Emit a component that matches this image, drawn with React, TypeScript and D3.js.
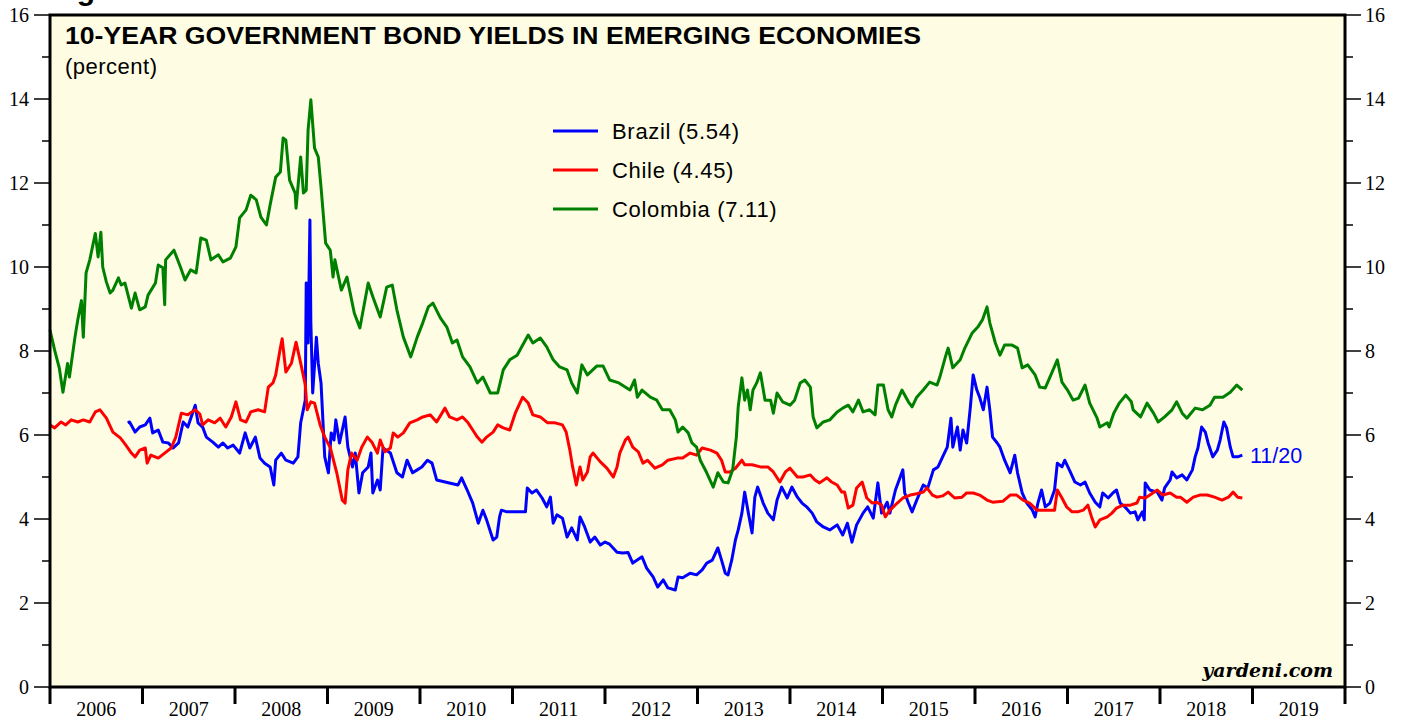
import React from "react";
import * as d3 from "d3";

const yearLabels = [2006, 2007, 2008, 2009, 2010, 2011, 2012, 2013, 2014, 2015, 2016, 2017, 2018, 2019];
const yTicks = [0, 2, 4, 6, 8, 10, 12, 14, 16];
const yMinorTicks = [1, 3, 5, 7, 9, 11, 13, 15];

const colombia: [number, number][] = [
  [2006.00, 8.5], [2006.05, 8.02], [2006.10, 7.6], [2006.14, 7.02], [2006.19, 7.7], [2006.21, 7.38],
  [2006.27, 8.33], [2006.30, 8.74], [2006.34, 9.2], [2006.36, 8.33], [2006.39, 9.86], [2006.43, 10.17],
  [2006.49, 10.8], [2006.52, 10.24], [2006.55, 10.83], [2006.57, 10.0], [2006.61, 9.64], [2006.65, 9.38],
  [2006.68, 9.45], [2006.74, 9.74], [2006.77, 9.57], [2006.81, 9.62], [2006.88, 9.02], [2006.92, 9.38],
  [2006.97, 8.98], [2007.03, 9.05], [2007.06, 9.33], [2007.14, 9.62], [2007.17, 10.05], [2007.22, 9.98],
  [2007.24, 9.1], [2007.25, 10.17], [2007.34, 10.4], [2007.41, 10.0], [2007.46, 9.69], [2007.52, 9.93],
  [2007.58, 9.86], [2007.63, 10.69], [2007.69, 10.64], [2007.74, 10.17], [2007.82, 10.29], [2007.87, 10.12],
  [2007.95, 10.21], [2008.01, 10.48], [2008.05, 11.17], [2008.12, 11.36], [2008.17, 11.71], [2008.23, 11.6],
  [2008.28, 11.19], [2008.34, 11.0], [2008.38, 11.48], [2008.44, 12.14], [2008.49, 12.26], [2008.52, 13.07],
  [2008.55, 13.02], [2008.59, 12.07], [2008.65, 11.76], [2008.66, 11.4], [2008.71, 12.62], [2008.74, 11.76],
  [2008.77, 11.83], [2008.79, 13.26], [2008.82, 13.98], [2008.86, 12.83], [2008.90, 12.62], [2008.93, 11.9],
  [2008.98, 10.57], [2009.03, 10.4], [2009.06, 9.76], [2009.08, 10.17], [2009.15, 9.45], [2009.21, 9.76],
  [2009.29, 8.9], [2009.35, 8.55], [2009.44, 9.62], [2009.49, 9.29], [2009.57, 8.81], [2009.64, 9.52],
  [2009.70, 9.57], [2009.75, 8.98], [2009.82, 8.33], [2009.90, 7.86], [2009.97, 8.33], [2010.03, 8.67],
  [2010.09, 9.05], [2010.14, 9.14], [2010.22, 8.79], [2010.29, 8.57], [2010.35, 8.19], [2010.40, 8.26],
  [2010.46, 7.86], [2010.54, 7.62], [2010.62, 7.24], [2010.68, 7.38], [2010.76, 7.0], [2010.84, 7.0],
  [2010.90, 7.55], [2010.97, 7.79], [2011.05, 7.9], [2011.10, 8.1], [2011.17, 8.38], [2011.22, 8.19],
  [2011.30, 8.31], [2011.37, 8.1], [2011.44, 7.79], [2011.51, 7.62], [2011.59, 7.55], [2011.64, 7.24],
  [2011.70, 7.0], [2011.75, 7.67], [2011.81, 7.43], [2011.91, 7.64], [2011.98, 7.64], [2012.05, 7.31],
  [2012.15, 7.24], [2012.27, 7.07], [2012.32, 7.31], [2012.35, 6.9], [2012.40, 7.07], [2012.49, 6.9],
  [2012.56, 6.83], [2012.62, 6.6], [2012.70, 6.6], [2012.76, 6.36], [2012.79, 6.07], [2012.84, 6.19],
  [2012.90, 6.05], [2012.94, 5.81], [2012.99, 5.71], [2013.03, 5.4], [2013.10, 5.1], [2013.17, 4.76],
  [2013.22, 5.1], [2013.28, 4.88], [2013.33, 4.86], [2013.38, 5.17], [2013.42, 5.95], [2013.44, 6.67],
  [2013.48, 7.36], [2013.51, 6.83], [2013.54, 7.07], [2013.57, 6.6], [2013.60, 7.07], [2013.64, 7.24],
  [2013.68, 7.48], [2013.73, 6.83], [2013.79, 6.83], [2013.82, 6.52], [2013.86, 7.0], [2013.92, 6.79],
  [2014.00, 6.71], [2014.05, 6.83], [2014.11, 7.24], [2014.16, 7.31], [2014.22, 7.14], [2014.25, 6.43],
  [2014.29, 6.17], [2014.36, 6.31], [2014.43, 6.36], [2014.51, 6.55], [2014.57, 6.64], [2014.63, 6.71],
  [2014.68, 6.55], [2014.74, 6.83], [2014.79, 6.55], [2014.86, 6.6], [2014.92, 6.48], [2014.95, 7.19],
  [2015.01, 7.19], [2015.06, 6.6], [2015.10, 6.43], [2015.14, 6.71], [2015.21, 7.07], [2015.28, 6.79],
  [2015.32, 6.67], [2015.37, 6.9], [2015.44, 7.07], [2015.51, 7.26], [2015.59, 7.19], [2015.62, 7.38],
  [2015.68, 7.86], [2015.71, 8.07], [2015.76, 7.6], [2015.84, 7.79], [2015.89, 8.07], [2015.97, 8.43],
  [2016.03, 8.57], [2016.08, 8.74], [2016.13, 9.05], [2016.16, 8.67], [2016.22, 8.19], [2016.27, 7.9],
  [2016.32, 8.14], [2016.40, 8.14], [2016.46, 8.07], [2016.51, 7.6], [2016.57, 7.67], [2016.65, 7.43],
  [2016.70, 7.14], [2016.76, 7.12], [2016.83, 7.48], [2016.89, 7.79], [2016.94, 7.26], [2017.00, 7.07],
  [2017.06, 6.83], [2017.12, 6.88], [2017.19, 7.19], [2017.24, 6.76], [2017.32, 6.4], [2017.35, 6.19],
  [2017.43, 6.29], [2017.45, 6.19], [2017.50, 6.52], [2017.56, 6.76], [2017.63, 6.95], [2017.69, 6.79],
  [2017.71, 6.6], [2017.79, 6.43], [2017.86, 6.76], [2017.93, 6.52], [2017.98, 6.31], [2018.05, 6.43],
  [2018.13, 6.6], [2018.18, 6.79], [2018.24, 6.52], [2018.29, 6.4], [2018.38, 6.64], [2018.46, 6.6],
  [2018.54, 6.71], [2018.59, 6.9], [2018.68, 6.9], [2018.76, 7.02], [2018.83, 7.19], [2018.89, 7.07],
];

const brazil: [number, number][] = [
  [2006.84, 6.29], [2006.86, 6.31], [2006.92, 6.07], [2006.97, 6.19], [2007.03, 6.24], [2007.08, 6.4],
  [2007.11, 6.05], [2007.17, 6.12], [2007.22, 5.83], [2007.28, 5.81], [2007.33, 5.69], [2007.39, 5.81],
  [2007.44, 6.31], [2007.49, 6.19], [2007.57, 6.71], [2007.60, 6.29], [2007.65, 6.19], [2007.69, 5.95],
  [2007.76, 5.83], [2007.82, 5.71], [2007.87, 5.81], [2007.92, 5.69], [2007.98, 5.76], [2008.05, 5.57],
  [2008.11, 6.05], [2008.16, 5.69], [2008.22, 5.95], [2008.27, 5.45], [2008.32, 5.33], [2008.38, 5.24],
  [2008.42, 4.81], [2008.44, 5.4], [2008.50, 5.57], [2008.55, 5.4], [2008.63, 5.33], [2008.68, 5.48],
  [2008.71, 6.29], [2008.76, 6.83], [2008.77, 9.62], [2008.79, 8.19], [2008.81, 11.12], [2008.82, 8.67],
  [2008.84, 7.0], [2008.88, 8.33], [2008.90, 7.71], [2008.93, 7.24], [2008.97, 5.48], [2009.01, 5.1],
  [2009.04, 6.05], [2009.07, 5.88], [2009.09, 6.36], [2009.13, 5.81], [2009.19, 6.43], [2009.22, 5.71],
  [2009.27, 5.24], [2009.30, 5.57], [2009.34, 4.62], [2009.38, 5.1], [2009.44, 5.24], [2009.47, 5.57],
  [2009.49, 4.62], [2009.54, 4.93], [2009.57, 4.69], [2009.60, 5.69], [2009.68, 5.57], [2009.75, 5.1],
  [2009.81, 5.0], [2009.86, 5.4], [2009.92, 5.1], [2009.97, 5.17], [2010.02, 5.24], [2010.08, 5.4],
  [2010.13, 5.33], [2010.18, 4.93], [2010.41, 4.81], [2010.45, 4.98], [2010.51, 4.69], [2010.57, 4.38],
  [2010.63, 3.9], [2010.68, 4.21], [2010.72, 3.98], [2010.79, 3.5], [2010.83, 3.57], [2010.86, 4.05],
  [2010.88, 4.21], [2010.94, 4.17], [2011.14, 4.17], [2011.16, 4.74], [2011.21, 4.62], [2011.26, 4.69],
  [2011.32, 4.5], [2011.37, 4.29], [2011.41, 4.52], [2011.44, 3.9], [2011.48, 4.1], [2011.54, 4.02],
  [2011.59, 3.57], [2011.64, 3.79], [2011.70, 3.5], [2011.73, 4.05], [2011.78, 3.81], [2011.84, 3.45],
  [2011.89, 3.57], [2011.95, 3.38], [2012.00, 3.45], [2012.05, 3.4], [2012.13, 3.21], [2012.19, 3.19],
  [2012.25, 3.2], [2012.30, 2.95], [2012.40, 3.1], [2012.45, 2.83], [2012.52, 2.62], [2012.57, 2.38],
  [2012.63, 2.55], [2012.68, 2.36], [2012.76, 2.31], [2012.79, 2.62], [2012.84, 2.6], [2012.92, 2.71],
  [2012.99, 2.67], [2013.05, 2.79], [2013.10, 2.95], [2013.16, 3.02], [2013.22, 3.31], [2013.26, 3.02],
  [2013.30, 2.71], [2013.33, 2.67], [2013.37, 3.02], [2013.41, 3.5], [2013.44, 3.74], [2013.48, 4.14],
  [2013.51, 4.64], [2013.55, 4.14], [2013.59, 3.67], [2013.62, 4.52], [2013.65, 4.76], [2013.71, 4.38],
  [2013.76, 4.14], [2013.82, 3.98], [2013.86, 4.45], [2013.91, 4.76], [2013.97, 4.5], [2014.02, 4.76],
  [2014.08, 4.52], [2014.13, 4.38], [2014.18, 4.29], [2014.24, 4.14], [2014.29, 3.93], [2014.36, 3.81],
  [2014.43, 3.74], [2014.51, 3.86], [2014.57, 3.62], [2014.62, 3.9], [2014.67, 3.45], [2014.72, 3.86],
  [2014.79, 4.14], [2014.84, 4.29], [2014.90, 4.02], [2014.95, 4.86], [2014.99, 4.14], [2015.05, 4.4],
  [2015.08, 4.14], [2015.14, 4.69], [2015.22, 5.17], [2015.24, 4.62], [2015.28, 4.38], [2015.32, 4.17],
  [2015.37, 4.45], [2015.44, 4.81], [2015.49, 4.74], [2015.55, 5.17], [2015.60, 5.24], [2015.65, 5.48],
  [2015.70, 5.71], [2015.74, 6.4], [2015.76, 5.71], [2015.81, 6.19], [2015.84, 5.64], [2015.87, 6.12],
  [2015.91, 5.81], [2015.95, 6.67], [2015.98, 7.43], [2016.02, 7.07], [2016.05, 6.9], [2016.09, 6.6],
  [2016.13, 7.14], [2016.16, 6.6], [2016.19, 5.95], [2016.24, 5.81], [2016.27, 5.71], [2016.32, 5.4],
  [2016.38, 5.1], [2016.43, 5.52], [2016.46, 5.1], [2016.51, 4.62], [2016.56, 4.38], [2016.62, 4.21],
  [2016.65, 4.05], [2016.68, 4.38], [2016.72, 4.69], [2016.76, 4.29], [2016.81, 4.38], [2016.86, 4.69],
  [2016.89, 5.33], [2016.94, 5.24], [2016.97, 5.4], [2017.03, 5.12], [2017.08, 4.88], [2017.14, 4.81],
  [2017.19, 4.88], [2017.24, 4.62], [2017.30, 4.4], [2017.35, 4.29], [2017.38, 4.62], [2017.44, 4.5],
  [2017.49, 4.62], [2017.53, 4.69], [2017.57, 4.38], [2017.62, 4.29], [2017.68, 4.14], [2017.73, 4.17],
  [2017.76, 3.98], [2017.81, 4.17], [2017.83, 3.98], [2017.84, 4.86], [2017.89, 4.69], [2017.97, 4.64],
  [2018.02, 4.45], [2018.05, 4.74], [2018.11, 4.93], [2018.13, 5.12], [2018.18, 4.98], [2018.24, 5.05],
  [2018.29, 4.93], [2018.35, 5.17], [2018.38, 5.48], [2018.41, 5.69], [2018.45, 6.19], [2018.49, 6.07],
  [2018.52, 5.81], [2018.57, 5.48], [2018.62, 5.64], [2018.65, 5.88], [2018.69, 6.31], [2018.72, 6.17],
  [2018.76, 5.71], [2018.79, 5.48], [2018.84, 5.48], [2018.89, 5.52],
];

const chile: [number, number][] = [
  [2006.00, 6.24], [2006.05, 6.17], [2006.12, 6.31], [2006.17, 6.24], [2006.23, 6.36], [2006.30, 6.31],
  [2006.36, 6.36], [2006.43, 6.31], [2006.49, 6.55], [2006.54, 6.6], [2006.61, 6.4], [2006.68, 6.07],
  [2006.76, 5.93], [2006.82, 5.76], [2006.88, 5.57], [2006.92, 5.48], [2006.97, 5.64], [2007.03, 5.69],
  [2007.05, 5.33], [2007.09, 5.52], [2007.17, 5.45], [2007.24, 5.57], [2007.31, 5.69], [2007.36, 5.95],
  [2007.42, 6.52], [2007.49, 6.48], [2007.57, 6.6], [2007.62, 6.5], [2007.65, 6.24], [2007.71, 6.36],
  [2007.78, 6.29], [2007.84, 6.4], [2007.90, 6.19], [2007.96, 6.43], [2008.01, 6.79], [2008.06, 6.36],
  [2008.12, 6.31], [2008.17, 6.55], [2008.25, 6.6], [2008.32, 6.55], [2008.36, 7.14], [2008.41, 7.24],
  [2008.44, 7.43], [2008.49, 8.07], [2008.51, 8.29], [2008.55, 7.5], [2008.61, 7.71], [2008.66, 8.21],
  [2008.71, 7.71], [2008.76, 7.19], [2008.78, 6.6], [2008.82, 6.79], [2008.86, 6.76], [2008.92, 6.24],
  [2008.97, 5.95], [2009.03, 5.7], [2009.10, 5.1], [2009.16, 4.45], [2009.19, 4.38], [2009.22, 5.17],
  [2009.26, 5.57], [2009.32, 5.4], [2009.37, 5.71], [2009.43, 5.95], [2009.48, 5.83], [2009.54, 5.57],
  [2009.57, 5.88], [2009.62, 5.6], [2009.68, 5.69], [2009.71, 6.05], [2009.76, 5.95], [2009.82, 6.05],
  [2009.89, 6.29], [2009.97, 6.36], [2010.03, 6.43], [2010.11, 6.48], [2010.18, 6.31], [2010.27, 6.64],
  [2010.32, 6.43], [2010.40, 6.36], [2010.46, 6.43], [2010.52, 6.29], [2010.57, 6.12], [2010.62, 5.95],
  [2010.67, 5.83], [2010.72, 5.95], [2010.79, 6.07], [2010.84, 6.24], [2010.90, 6.17], [2010.97, 6.12],
  [2011.03, 6.52], [2011.08, 6.76], [2011.11, 6.9], [2011.17, 6.76], [2011.22, 6.48], [2011.30, 6.43],
  [2011.38, 6.29], [2011.46, 6.29], [2011.54, 6.24], [2011.58, 6.07], [2011.62, 5.64], [2011.65, 5.24],
  [2011.69, 4.81], [2011.73, 5.24], [2011.76, 4.93], [2011.81, 5.12], [2011.84, 5.48], [2011.87, 5.57],
  [2011.95, 5.36], [2012.02, 5.21], [2012.09, 5.0], [2012.13, 5.24], [2012.16, 5.57], [2012.22, 5.88],
  [2012.25, 5.95], [2012.30, 5.71], [2012.36, 5.6], [2012.41, 5.33], [2012.46, 5.4], [2012.54, 5.21],
  [2012.62, 5.29], [2012.68, 5.4], [2012.78, 5.45], [2012.84, 5.45], [2012.92, 5.57], [2012.99, 5.52],
  [2013.05, 5.69], [2013.14, 5.64], [2013.21, 5.57], [2013.26, 5.4], [2013.30, 5.12], [2013.35, 5.12],
  [2013.41, 5.21], [2013.48, 5.4], [2013.51, 5.29], [2013.59, 5.29], [2013.68, 5.24], [2013.76, 5.24],
  [2013.82, 5.12], [2013.89, 4.88], [2013.95, 5.12], [2014.00, 5.21], [2014.08, 5.0], [2014.14, 5.0],
  [2014.22, 5.05], [2014.27, 4.93], [2014.32, 4.86], [2014.40, 4.98], [2014.45, 4.88], [2014.51, 4.81],
  [2014.56, 4.64], [2014.59, 4.64], [2014.63, 4.26], [2014.68, 4.33], [2014.72, 4.74], [2014.78, 4.88],
  [2014.83, 4.5], [2014.89, 4.38], [2014.94, 4.4], [2014.99, 4.33], [2015.03, 4.05], [2015.08, 4.21],
  [2015.16, 4.38], [2015.22, 4.5], [2015.30, 4.57], [2015.37, 4.6], [2015.44, 4.64], [2015.48, 4.74],
  [2015.54, 4.57], [2015.59, 4.52], [2015.65, 4.55], [2015.71, 4.64], [2015.78, 4.5], [2015.86, 4.52],
  [2015.91, 4.62], [2015.98, 4.62], [2016.05, 4.57], [2016.13, 4.45], [2016.19, 4.4], [2016.30, 4.42],
  [2016.38, 4.57], [2016.45, 4.57], [2016.52, 4.45], [2016.59, 4.38], [2016.67, 4.21], [2016.74, 4.21],
  [2016.81, 4.21], [2016.86, 4.21], [2016.89, 4.69], [2016.94, 4.5], [2016.99, 4.29], [2017.05, 4.17],
  [2017.11, 4.17], [2017.17, 4.21], [2017.22, 4.33], [2017.26, 4.05], [2017.30, 3.81], [2017.35, 3.98],
  [2017.43, 4.05], [2017.48, 4.14], [2017.53, 4.26], [2017.60, 4.33], [2017.68, 4.33], [2017.75, 4.38],
  [2017.78, 4.52], [2017.84, 4.5], [2017.89, 4.57], [2017.97, 4.69], [2018.03, 4.57], [2018.11, 4.62],
  [2018.18, 4.52], [2018.22, 4.52], [2018.29, 4.4], [2018.36, 4.52], [2018.43, 4.57], [2018.51, 4.57],
  [2018.59, 4.52], [2018.67, 4.45], [2018.74, 4.52], [2018.79, 4.64], [2018.84, 4.52], [2018.89, 4.5],
];

const seriesNames = ["Brazil (5.54)", "Chile (4.45)", "Colombia (7.11)"];
const seriesColors = ["#0000ff", "#ff0000", "#008000"];

const W = 1405;
const H = 719;
const left = 50;
const right = 1345;
const top = 15;
const bottom = 687;

export default function App() {
  const x = d3.scaleLinear().domain([2006, 2020]).range([left, right]);
  const y = d3.scaleLinear().domain([0, 16]).range([bottom, top]);
  const line = d3
    .line<[number, number]>()
    .x((d) => x(d[0]))
    .y((d) => y(d[1]));

  const serif = "'Liberation Serif', 'Times New Roman', serif";
  const sans = "'Liberation Sans', Arial, Helvetica, sans-serif";

  const drawOrder: { data: [number, number][]; color: string }[] = [
    { data: brazil, color: seriesColors[0] },
    { data: chile, color: seriesColors[1] },
    { data: colombia, color: seriesColors[2] },
  ];

  return (
    <svg
      width={W}
      height={H}
      style={{ position: "absolute", left: 0, top: 0, background: "#ffffff" }}
    >
      <text x={50} y={0} fontFamily={sans} fontWeight="bold" fontSize={30} fill="#000">
        Figure
      </text>
      <rect x={left} y={top} width={right - left} height={bottom - top} fill="#fefde3" />

      {/* y ticks left & right */}
      {yTicks.map((t) => (
        <g key={"yt" + t}>
          <line x1={34} x2={left} y1={y(t)} y2={y(t)} stroke="#000" strokeWidth={1.5} />
          <line x1={right} x2={1361} y1={y(t)} y2={y(t)} stroke="#000" strokeWidth={1.5} />
          <text x={29} y={y(t) + 7} textAnchor="end" fontFamily={serif} fontSize={20} fill="#000">
            {t}
          </text>
          <text x={1365} y={y(t) + 7} textAnchor="start" fontFamily={serif} fontSize={20} fill="#000">
            {t}
          </text>
        </g>
      ))}
      {yMinorTicks.map((t) => (
        <g key={"ym" + t}>
          <line x1={42} x2={left} y1={y(t)} y2={y(t)} stroke="#000" strokeWidth={1.5} />
          <line x1={right} x2={1353} y1={y(t)} y2={y(t)} stroke="#000" strokeWidth={1.5} />
        </g>
      ))}

      {/* x axis ticks and labels */}
      {yearLabels.map((yr) => (
        <g key={"x" + yr}>
          <line x1={x(yr)} x2={x(yr)} y1={bottom} y2={704} stroke="#000" strokeWidth={3} />
          <text
            x={x(yr + 0.5)}
            y={716}
            textAnchor="middle"
            fontFamily={serif}
            fontSize={20}
            fill="#000"
          >
            {yr}
          </text>
        </g>
      ))}
      <line x1={x(2020)} x2={x(2020)} y1={bottom} y2={704} stroke="#000" strokeWidth={3} />

      {/* series */}
      {drawOrder.map((s, i) => (
        <path
          key={"s" + i}
          d={line(s.data) || ""}
          fill="none"
          stroke={s.color}
          strokeWidth={3}
          strokeLinejoin="round"
        />
      ))}

      {/* frame */}
      <rect
        x={left}
        y={top}
        width={right - left}
        height={bottom - top}
        fill="none"
        stroke="#000"
        strokeWidth={3}
      />

      {/* title */}
      <text x={65} y={44} fontFamily={sans} fontWeight="bold" fontSize={23} fill="#000" textLength={856} lengthAdjust="spacingAndGlyphs">
        10-YEAR GOVERNMENT BOND YIELDS IN EMERGING ECONOMIES
      </text>
      <text x={65} y={74} fontFamily={sans} fontSize={22} letterSpacing={0.5} fill="#000">
        (percent)
      </text>

      {/* legend */}
      {seriesNames.map((n, i) => (
        <g key={"lg" + i}>
          <line x1={553} x2={598} y1={131 + i * 39} y2={131 + i * 39} stroke={seriesColors[i]} strokeWidth={3} />
          <text x={612} y={139 + i * 39} fontFamily={sans} fontSize={22} letterSpacing={0.7} fill="#000">
            {n}
          </text>
        </g>
      ))}

      <text x={1250} y={463} fontFamily={sans} fontSize={21.5} fill="#0000ff">
        11/20
      </text>

      <text
        x={1333}
        y={677}
        textAnchor="end"
        fontFamily="'DejaVu Serif', serif"
        fontStyle="italic"
        fontWeight="bold"
        fontSize={19}
        fill="#000"
      >
        yardeni.com
      </text>
    </svg>
  );
}
